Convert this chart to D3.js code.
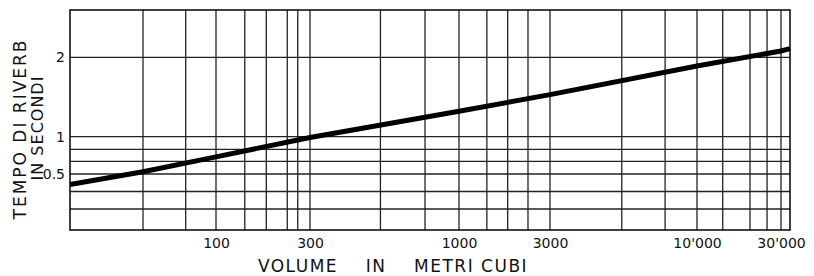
<!DOCTYPE html>
<html>
<head>
<meta charset="utf-8">
<script src="https://cdn.jsdelivr.net/npm/d3@7"></script>
<style>
  body { margin: 0; background: white; }
  text { font-family: "DejaVu Sans", sans-serif; fill: #111; }
</style>
</head>
<body>
<script>
// curve: reverberation time (s) against room volume (m3)
var volumes = [25, 50, 100, 300, 1000, 3000, 10000, 30000, 34000];
var times   = [0.44, 0.53, 0.73, 0.99, 1.32, 1.53, 1.89, 2.08, 2.11];

// grid as drawn on the original sheet
var xGrid = [50, 75, 100, 140, 180, 230, 260, 300, 530, 760, 1000, 1400, 1800, 2300,
             3000, 5400, 7700, 10000, 14000, 20000, 25000, 30000];
var yGrid = [0.3, 0.4, 0.5, 0.67, 0.83, 1, 2];

var xTicks = [100, 300, 1000, 3000, 10000, 30000];
var xTickLabels = ["100", "300", "1000", "3000", "10'000", "30'000"];
var yTicks = [0.5, 1, 2];
var yTickLabels = ["0.5", "1", "2"];

// the hand drawn scale is not uniform, so both scales are piecewise
var xBreaks = [25, 100, 300, 1000, 3000, 10000, 30000, 34000];
var yBreaks = [0.18, 0.5, 1, 2, 2.6];

function drawChart(){
    let width = 814, height = 276;
    let svg = d3.select("body").append("svg")
        .attr("width", width)
        .attr("height", height);

    let x = d3.scaleLog()
        .domain(xBreaks)
        .range([70, 216, 310, 459, 550, 697, 781, 790]);
    let y = d3.scaleLinear()
        .domain(yBreaks)
        .range([230, 174, 136.7, 57.3, 10]);

    let top = y(yBreaks[yBreaks.length - 1]), bottom = y(yBreaks[0]);
    let left = x(xBreaks[0]), right = x(xBreaks[xBreaks.length - 1]);

    //grid
    svg.append("g").selectAll("line")
        .data(xGrid)
        .enter().append("line")
        .attr("x1", d => x(d)).attr("x2", d => x(d))
        .attr("y1", top).attr("y2", bottom)
        .style("stroke", "#222").style("stroke-width", 1.3);

    svg.append("g").selectAll("line")
        .data(yGrid)
        .enter().append("line")
        .attr("x1", left).attr("x2", right)
        .attr("y1", d => y(d)).attr("y2", d => y(d))
        .style("stroke", "#222").style("stroke-width", 1.3);

    svg.append("rect")
        .attr("x", left).attr("y", top)
        .attr("width", right - left).attr("height", bottom - top)
        .style("fill", "none").style("stroke", "#111").style("stroke-width", 1.6);

    //axes
    let xAxis = svg.append("g")
        .attr("transform", "translate(0," + bottom + ")")
        .call(d3.axisBottom(x).tickValues(xTicks)
            .tickFormat((d, i) => xTickLabels[i]).tickSize(0).tickPadding(8));
    let yAxis = svg.append("g")
        .attr("transform", "translate(" + left + ",0)")
        .call(d3.axisLeft(y).tickValues(yTicks)
            .tickFormat((d, i) => yTickLabels[i]).tickSize(0).tickPadding(5));
    [xAxis, yAxis].forEach(a => {
        a.select(".domain").remove();
        a.selectAll("text")
            .style("font-family", "DejaVu Sans")
            .style("font-size", "14px")
            .style("fill", "#111");
    });

    //titles
    svg.append("text")
        .attr("x", 393).attr("y", 272)
        .attr("text-anchor", "middle")
        .style("font-size", "17px")
        .style("letter-spacing", "1.5px")
        .text("VOLUME\u00A0\u00A0\u00A0\u00A0IN\u00A0\u00A0\u00A0\u00A0METRI CUBI");

    svg.append("text")
        .attr("transform", "translate(26,129) rotate(-90)")
        .attr("text-anchor", "middle")
        .style("font-size", "17px")
        .style("letter-spacing", "2px")
        .text("TEMPO DI RIVERB");
    svg.append("text")
        .attr("transform", "translate(43,128) rotate(-90)")
        .attr("text-anchor", "middle")
        .style("font-size", "16px")
        .style("letter-spacing", "1px")
        .text("IN SECONDI");

    //the curve
    let line = d3.line()
        .x(d => x(d[0]))
        .y(d => y(d[1]));
    svg.append("path")
        .datum(d3.zip(volumes, times))
        .attr("d", line)
        .style("fill", "none")
        .style("stroke", "#000")
        .style("stroke-width", 5);
}

drawChart();
</script>
</body>
</html>
